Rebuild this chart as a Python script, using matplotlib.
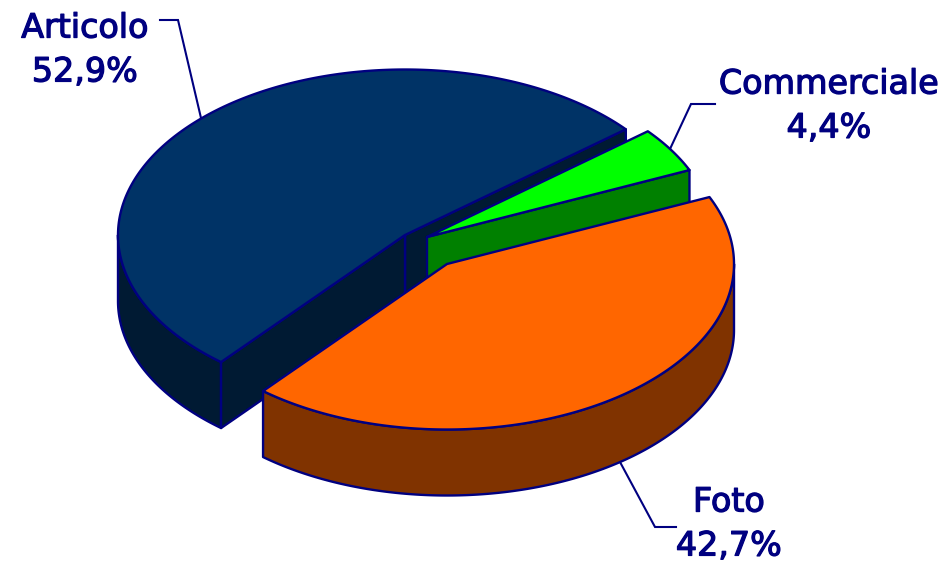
import numpy as np
import matplotlib
matplotlib.use("Agg")
import matplotlib.pyplot as plt
from matplotlib.patches import Polygon
import matplotlib.patheffects as pe

# data
names = ["Articolo", "Foto", "Commerciale"]
values = [52.9, 42.7, 4.4]
labels = ["52,9%", "42,7%", "4,4%"]
top_colors = ["#003366", "#FF6600", "#00FF00"]
side_colors = ["#001A33", "#803300", "#008000"]

EDGE = "#000080"
START = 39.7
RX, RY, DEPTH = 287.0, 165.5, 66.0
centers = {"Articolo": (405, 235), "Foto": (447, 264), "Commerciale": (427, 237)}
leaders = {"Articolo": [(160, 20), (178, 20), (201, 118)],
           "Foto": [(620, 462), (655, 527), (676, 527)],
           "Commerciale": [(715, 104), (691, 104), (670, 149)]}
label_pos = {"Articolo": (85, 50), "Foto": (729, 524), "Commerciale": (829, 106)}

fig = plt.figure(figsize=(9.48, 5.63), dpi=100)
ax = fig.add_axes([0, 0, 1, 1])
ax.set_xlim(0, 948)
ax.set_ylim(563, 0)
ax.axis("off")


def arc(c, t0, t1, dy=0.0):
    t = np.radians(np.linspace(t0, t1, max(int(abs(t1 - t0)) * 2, 2)))
    return np.column_stack([c[0] + RX * np.cos(t), c[1] - RY * np.sin(t) + dy])


def poly(pts, color, z):
    ax.add_patch(Polygon(pts, closed=True, facecolor=color, edgecolor=EDGE,
                         linewidth=1.7, joinstyle="round", zorder=z))


def face(c, t, color, z):
    p = arc(c, t, t, 0)[0]
    poly([c, p, (p[0], p[1] + DEPTH), (c[0], c[1] + DEPTH)], color, z)


spans = np.array(values) * 3.6
starts = START + np.concatenate([[0], np.cumsum(spans)[:-1]])
order = {"Articolo": 1, "Commerciale": 2, "Foto": 3}

for name, t0, span, top, side in zip(names, starts, spans, top_colors, side_colors):
    c = centers[name]
    t1 = t0 + span
    z = order[name] * 10
    # outer rim: only the part facing the viewer (180..360 deg)
    lo, hi = max(t0, 180.0), min(t1, 360.0)
    if hi > lo:
        poly(np.vstack([arc(c, lo, hi), arc(c, hi, lo, DEPTH)]), side, z)
    # cut faces: only those turned towards the viewer
    if np.cos(np.radians(t0)) > 0:
        face(c, t0, side, z + 1)
    if np.cos(np.radians(t1)) < 0:
        face(c, t1, side, z + 1)
    # top
    poly(np.vstack([[c], arc(c, t0, t1)]), top, z + 2)

for name, lab in zip(names, labels):
    xs, ys = zip(*leaders[name])
    ax.plot(xs, ys, color=EDGE, lw=1.5, zorder=5, solid_joinstyle="miter")
    x, y = label_pos[name]
    ax.text(x, y, f"{name}\n{lab}", ha="center", va="center", ma="center",
            fontsize=24, color=EDGE, family="DejaVu Sans", linespacing=1.42,
            path_effects=[pe.withStroke(linewidth=0.9, foreground=EDGE)], zorder=50)

fig.savefig("out.png", dpi=100, facecolor="white")
